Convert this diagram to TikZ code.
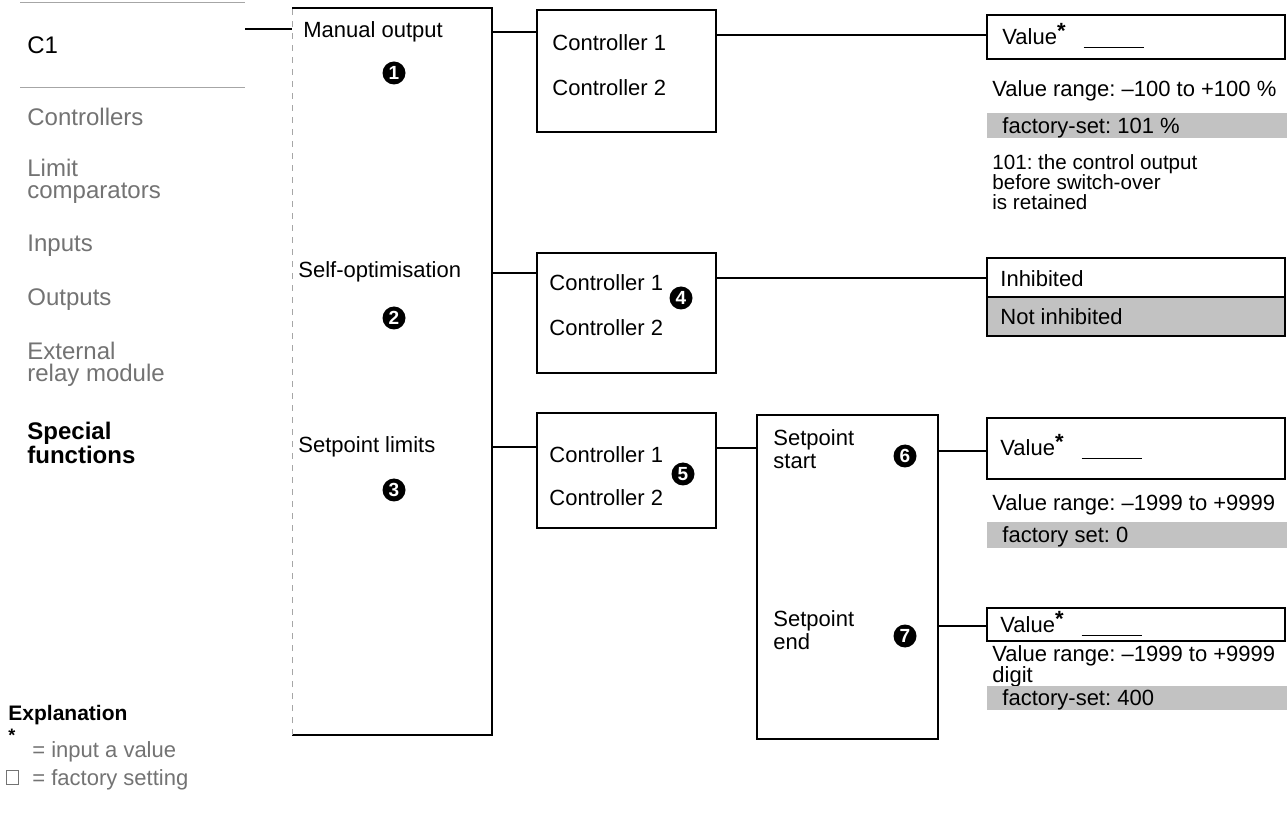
\documentclass[tikz,border=0pt]{standalone}
\usepackage{fontspec}
\setmainfont{Liberation Sans}
\frenchspacing
\newcommand\valstar{Value\raisebox{0.3em}{\bfseries *}\hspace{9pt}\rule[-1.5pt]{30pt}{0.6pt}}
\begin{document}
\begin{tikzpicture}[x=0.5pt,y=-0.5pt,
  box/.style={draw=black, line width=0.65pt, inner sep=0pt, outer sep=0pt, anchor=north west},
  band/.style={fill=black!24, inner sep=0pt, outer sep=0pt, anchor=north west},
  conn/.style={line width=0.95pt},
  faint/.style={draw=black!35, line width=0.5pt},
  txt/.style={anchor=west, inner sep=0pt, align=left, font=\fontsize{11}{11.5}\selectfont},
  txto/.style={txt, text height=7.9pt, text depth=0pt},
  note/.style={txt, font=\fontsize{10.3}{10}\selectfont},
  menu/.style={txt, text=black!55, font=\fontsize{12}{11}\selectfont},
  menuo/.style={menu, text height=8.6pt, text depth=0pt},
  num/.style={circle, fill=black, text=white, inner sep=0pt, minimum size=11.5pt, font=\bfseries\fontsize{9.5}{9.5}\selectfont}
]
\fill[white] (0,0) rectangle (1287,818);
\useasboundingbox (0,0) rectangle (1287,818);

% left menu column
\draw[faint] (20,3) -- (245,3);
\draw[faint] (20,88) -- (245,88);
\node[menuo, text=black] (c1) at (27,45) {C1};
\node[menuo] (ctl) at (27,117) {Controllers};
\node[menu] (lim) at (27,181) {Limit\\comparators};
\node[menuo] (inp) at (27,243) {Inputs};
\node[menuo] (outp) at (27,297) {Outputs};
\node[menu] (ext) at (27,364) {External\\relay module};
\node[menu, text=black, font=\bfseries\fontsize{12}{11}\selectfont] (spec) at (27,443) {Special\\functions};

% explanation
\node[txto, font=\bfseries\fontsize{10.5}{10.5}\selectfont] (expl) at (8,713) {Explanation};
\node[inner sep=0pt, font=\bfseries\fontsize{9}{9}\selectfont] (star) at (12,735) {*};
\node[txto, text=black!55] (inval) at (32,750) {= input a value};
\node[draw=black!55, line width=0.5pt, minimum width=6pt, minimum height=7pt, inner sep=0pt, anchor=north west] (sq) at (6,770) {};
\node[txto, text=black!55] (facs) at (32,778) {= factory setting};

% main box
\node[inner sep=0pt, outer sep=0pt, anchor=north west, minimum width=100pt, minimum height=363.5pt] (b1) at (292,8) {};
\draw[line width=0.65pt] (b1.north west) -- (b1.north east) -- (b1.south east) -- (b1.south west);
\draw[faint, dashed] (b1.south west) -- (b1.north west);
\node[txto] (mo) at (303,30) {Manual output};
\node[num] (n1) at (394,73) {1};
\node[txto] (so) at (298,270) {Self-optimisation};
\node[num] (n2) at (394,318) {2};
\node[txto] (sl) at (298,445) {Setpoint limits};
\node[num] (n3) at (394,490) {3};

% controller boxes
\node[box, minimum width=89.5pt, minimum height=61pt] (bA) at (537,10) {};
\node[txto] (bA1) at (552,43) {Controller 1};
\node[txto] (bA2) at (552,88) {Controller 2};
\node[box, minimum width=89.5pt, minimum height=60pt] (bB) at (537,253) {};
\node[txto] (bB1) at (549,283) {Controller 1};
\node[txto] (bB2) at (549,328) {Controller 2};
\node[num] (n4) at (681,298) {4};
\node[box, minimum width=89.5pt, minimum height=57.5pt] (bC) at (537,413) {};
\node[txto] (bC1) at (549,455) {Controller 1};
\node[txto] (bC2) at (549,498) {Controller 2};
\node[num] (n5) at (683,474) {5};

% setpoint box
\node[box, minimum width=90.5pt, minimum height=162pt] (sp) at (757,415) {};
\node[txt] (sps) at (773,449) {Setpoint\\start};
\node[num] (n6) at (905,456) {6};
\node[txt] (spe) at (773,630) {Setpoint\\end};
\node[num] (n7) at (905,636) {7};

% right column
\node[box, minimum width=149pt, minimum height=22pt] (vA) at (987,15) {};
\node[txto] (vAt) at (1002,37) {\valstar};
\node[txto] (vrA) at (992,89) {Value range: –100 to +100 \%};
\node[band, minimum width=150pt, minimum height=12.5pt] (bdA) at (987,113) {};
\node[txto] (bdAt) at (1002,126) {factory-set: 101 \%};
\node[note] (nt) at (992,182) {101: the control output\\before switch-over\\is retained};

\node[box, minimum width=149pt, minimum height=19.5pt] (ihA) at (987,258) {};
\node[box, fill=black!24, minimum width=149pt, minimum height=19.5pt] (ihB) at (987,297) {};
\node[txto] (ihAt) at (1000,279) {Inhibited};
\node[txto] (ihBt) at (1000,317) {Not inhibited};

\node[box, minimum width=149pt, minimum height=30.5pt] (vB) at (987,418) {};
\node[txto] (vBt) at (1000,448) {\valstar};
\node[txto] (vrB) at (992,503) {Value range: –1999 to +9999};
\node[band, minimum width=150pt, minimum height=13pt] (bdB) at (987,522) {};
\node[txto] (bdBt) at (1002,535) {factory set: 0};

\node[box, minimum width=149pt, minimum height=16.5pt] (vC) at (987,608) {};
\node[txto] (vCt) at (1000,625) {\valstar};
\node[txt, font=\fontsize{11}{10.5}\selectfont] (vrC) at (992,666) {Value range: –1999 to +9999\\digit};
\node[band, minimum width=150pt, minimum height=12pt] (bdC) at (987,686) {};
\node[txto] (bdCt) at (1002,698) {factory-set: 400};

% connectors
\coordinate (lstart) at (245,29);
\draw[conn] (lstart) -- (b1.west |- lstart);
\draw[conn] (b1.east |- 0,32) -- (bA.west |- 0,32);
\draw[conn] (bA.east |- 0,35) -- (vA.west |- 0,35);
\draw[conn] (b1.east |- 0,273) -- (bB.west |- 0,273);
\draw[conn] (bB.east |- 0,278) -- (ihA.west |- 0,278);
\draw[conn] (b1.east |- 0,447) -- (bC.west |- 0,447);
\draw[conn] (bC.east |- 0,448) -- (sp.west |- 0,448);
\draw[conn] (sp.east |- 0,451) -- (vB.west |- 0,451);
\draw[conn] (sp.east |- 0,626) -- (vC.west |- 0,626);
\end{tikzpicture}
\end{document}
